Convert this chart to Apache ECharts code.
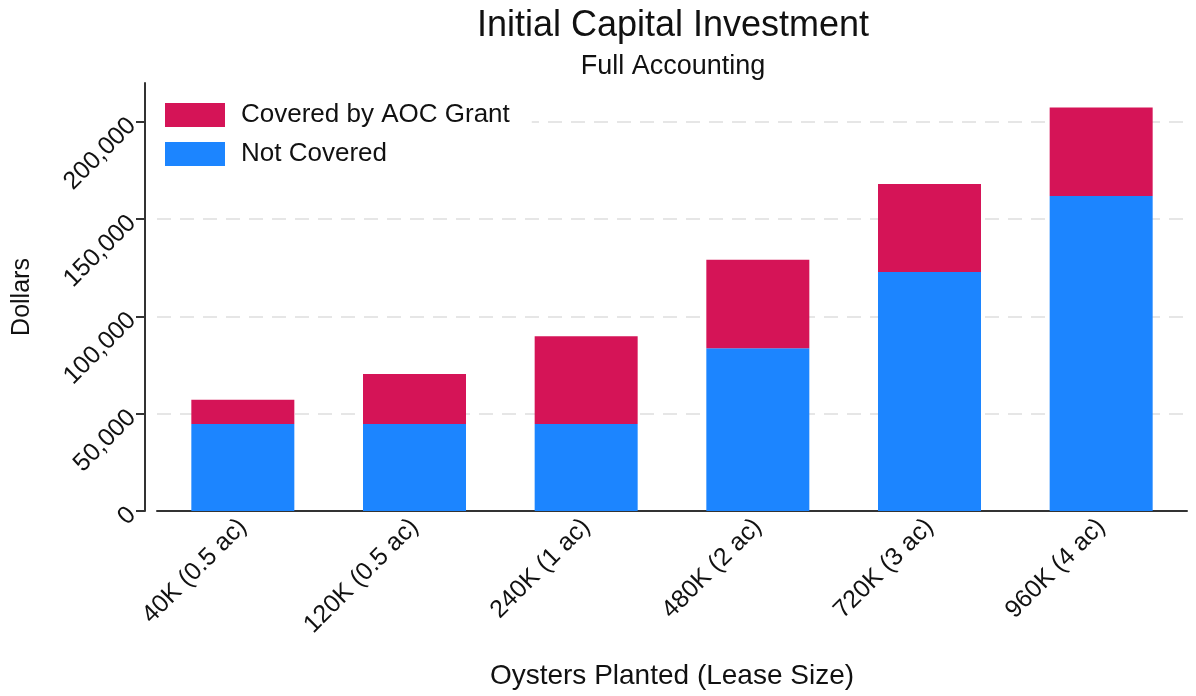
<!DOCTYPE html>
<html>
<head>
<meta charset="utf-8">
<title>Initial Capital Investment</title>
<script src="https://cdn.jsdelivr.net/npm/echarts@6/dist/echarts.min.js"></script>
<style>
  html, body { margin: 0; padding: 0; background: #fff; }
  #chart { width: 1196px; height: 696px; }
</style>
</head>
<body>
<div id="chart"></div>
<script>
// data
const categories = ['40K (0.5 ac)', '120K (0.5 ac)', '240K (1 ac)', '480K (2 ac)', '720K (3 ac)', '960K (4 ac)']
const notCovered = [44700, 44700, 44700, 83600, 122900, 161900]
const coveredByGrant = [12500, 25700, 45100, 45500, 45200, 45500]
const yTicks = [0, 50000, 100000, 150000, 200000]

const font = 'Liberation Sans, Arial, sans-serif'

const chart = echarts.init(document.getElementById('chart'))

chart.setOption({
  animation: false,
  textStyle: { fontFamily: font },
  title: {
    text: 'Initial Capital Investment',
    subtext: 'Full Accounting',
    left: 668,
    textAlign: 'center',
    top: 3,
    itemGap: 9,
    textStyle: { fontSize: 36, fontWeight: 'normal', color: '#111', fontFamily: font },
    subtextStyle: { fontSize: 27, color: '#111', fontFamily: font }
  },
  legend: {
    orient: 'vertical',
    left: 155,
    top: 94,
    padding: [8, 22, 8, 10],
    backgroundColor: '#fff',
    itemWidth: 60,
    itemHeight: 24,
    itemGap: 13,
    icon: 'rect',
    data: ['Covered by AOC Grant', 'Not Covered'],
    textStyle: { fontSize: 26, color: '#111', fontFamily: font, padding: [2, 0, 0, 11] }
  },
  grid: {
    left: 157,
    right: 9,
    top: 83,
    bottom: 185,
    outerBoundsMode: 'none'
  },
  xAxis: {
    type: 'category',
    data: categories,
    name: 'Oysters Planted (Lease Size)',
    nameLocation: 'middle',
    nameGap: 151,
    nameTextStyle: { fontSize: 28, color: '#111', fontFamily: font },
    axisLine: { lineStyle: { color: '#333', width: 2 } },
    axisTick: { show: false },
    axisLabel: {
      rotate: 45,
      fontSize: 25,
      color: '#111',
      margin: 12
    }
  },
  yAxis: {
    type: 'value',
    min: 0,
    max: 220000,
    interval: 50000,
    offset: 12,
    name: 'Dollars',
    nameLocation: 'middle',
    nameGap: 110,
    nameRotate: 90,
    nameTextStyle: { fontSize: 25, color: '#111', fontFamily: font },
    axisLine: { show: true, lineStyle: { color: '#333', width: 2 } },
    axisTick: {
      show: true,
      length: 9,
      customValues: yTicks,
      lineStyle: { color: '#333', width: 2 }
    },
    axisLabel: {
      rotate: 45,
      fontSize: 25,
      color: '#111',
      margin: 13,
      customValues: yTicks,
      formatter: v => v.toLocaleString('en-US')
    },
    splitLine: {
      show: true,
      showMinLine: false,
      lineStyle: { color: '#e6e6e6', width: 2, type: [14, 9] }
    }
  },
  series: [
    {
      name: 'Not Covered',
      type: 'bar',
      stack: 'cost',
      barWidth: '60%',
      data: notCovered,
      itemStyle: { color: '#1c85ff' }
    },
    {
      name: 'Covered by AOC Grant',
      type: 'bar',
      stack: 'cost',
      barWidth: '60%',
      data: coveredByGrant,
      itemStyle: { color: '#d51457' }
    }
  ]
})
</script>
</body>
</html>
